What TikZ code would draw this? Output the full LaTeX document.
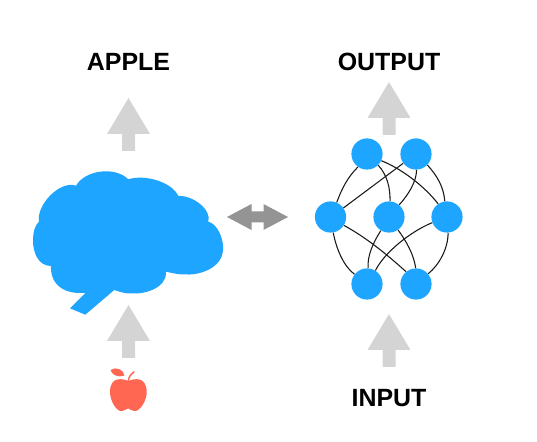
\documentclass[tikz,border=0pt]{standalone}
\usepackage{fontspec}
\setmainfont{Liberation Sans}
\definecolor{brainblue}{HTML}{1EA5FF}
\definecolor{applered}{HTML}{FF6753}
\begin{document}
\begin{tikzpicture}[
	x=0.75pt, y=-0.75pt,
	neuron/.style={circle, fill=brainblue, minimum size=23.4pt, inner sep=0pt},
	link/.style={draw=black!90, line width=0.8pt},
	label/.style={font=\bfseries\fontsize{18.7}{20}\selectfont, text=black},
	uparrow/.pic={\fill[black!17] (0,0) -- (21.5,36) -- (6.5,36) -- (6.5,53) -- (-6.5,53) -- (-6.5,36) -- (-21.5,36) -- cycle;},
	swaparrow/.pic={\fill[black!42] (-30.5,0) -- (-6,-13) -- (-6,-5.5) -- (6,-5.5) -- (6,-13) -- (30.5,0) -- (6,13) -- (6,5.5) -- (-6,5.5) -- (-6,13) -- cycle;}
	]
	\useasboundingbox (0,0) rectangle (537,442);
	
	% Labels
	\node[label] (apple) at (128.5,62) {APPLE};
	\node[label] (output) at (389,62) {OUTPUT};
	\node[label] (input) at (389,398) {INPUT};
	
	% Grey arrows
	\pic at (128.5,98) {uparrow};
	\pic at (128.5,305) {uparrow};
	\pic at (389,82) {uparrow};
	\pic at (389,314) {uparrow};
	\pic at (257.5,217) {swaparrow};
	
	% Brain
	\fill[brainblue] (128.3,179.3)
		.. controls (145,174) and (172,182) .. (178.3,196)
		.. controls (193,195) and (212,210) .. (208.3,221.7)
		.. controls (218,224) and (224,240) .. (223,250)
		.. controls (222,268) and (200,275) .. (187,274.5)
		.. controls (180,275) and (172,273) .. (166,271.7)
		.. controls (167,288) and (145,294) .. (133.3,293.5)
		.. controls (126,294) and (120,292) .. (114.3,290)
		-- (85.3,314.7) -- (70,308.3) -- (85.7,292.7)
		.. controls (65,295) and (50,285) .. (51,266)
		.. controls (38,266) and (33,252) .. (33,241)
		.. controls (33,232) and (35,225) .. (39,221.7)
		.. controls (36,205) and (60,180) .. (76,185.7)
		.. controls (85,170) and (115,166) .. (128.3,179.3) -- cycle;
	
	% Apple
	\fill[applered] (128.3,381)
		.. controls (134,378.5) and (146.5,376) .. (146.7,392)
		.. controls (147,400) and (140,412) .. (134,411)
		.. controls (131,411) and (130,408.5) .. (128.3,408.5)
		.. controls (126,408.5) and (125,411) .. (122,411)
		.. controls (116,412) and (110,400) .. (110,392)
		.. controls (110,376) and (122.5,378.5) .. (128.3,381) -- cycle;
	\fill[applered] (110.5,370) .. controls (116,366.5) and (123,369) .. (124.5,375.5)
		.. controls (117,378) and (112,374.5) .. (110.5,370) -- cycle;
	\draw[applered, line width=1.1pt] (128.3,381) .. controls (128.5,377) and (131,374) .. (134.3,371.7);
	
	% Network
	\node[neuron] (t1) at (367,154) {};
	\node[neuron] (t2) at (416,154) {};
	\node[neuron] (m1) at (330.5,217) {};
	\node[neuron] (m2) at (389,217) {};
	\node[neuron] (m3) at (447,217) {};
	\node[neuron] (b1) at (367,284) {};
	\node[neuron] (b2) at (416,284) {};
	
	\draw[link] (t1.235) .. controls +(-11,11) and +(5,-13) .. (m1.67);
	\draw[link] (t1.315) .. controls +(9,10) and +(0,-14) .. (m2.86);
	\draw[link] (t1.335) .. controls +(20,8) and +(-14,-18) .. (m3.124);
	\draw[link] (t2.216) -- (m1.35);
	\draw[link] (t2.272) .. controls +(0,12) and +(9,-10) .. (m2.50);
	\draw[link] (t2.316) .. controls +(10,11) and +(-1,-14) .. (m3.98);
	\draw[link] (m1.280) .. controls +(3,16) and +(-11,-8) .. (b1.142);
	\draw[link] (m1.328) .. controls +(22,12) and +(-20,-18) .. (b2.129);
	\draw[link] (m2.239) .. controls +(-7,11) and +(-1,-13) .. (b1.86);
	\draw[link] (m2.305) .. controls +(8,11) and +(-2,-14) .. (b2.91);
	\draw[link] (m3.201) .. controls +(-22,9) and +(9,-18) .. (b1.58);
	\draw[link] (m3.274) .. controls +(0,16) and +(11,-9) .. (b2.40);
\end{tikzpicture}
\end{document}
